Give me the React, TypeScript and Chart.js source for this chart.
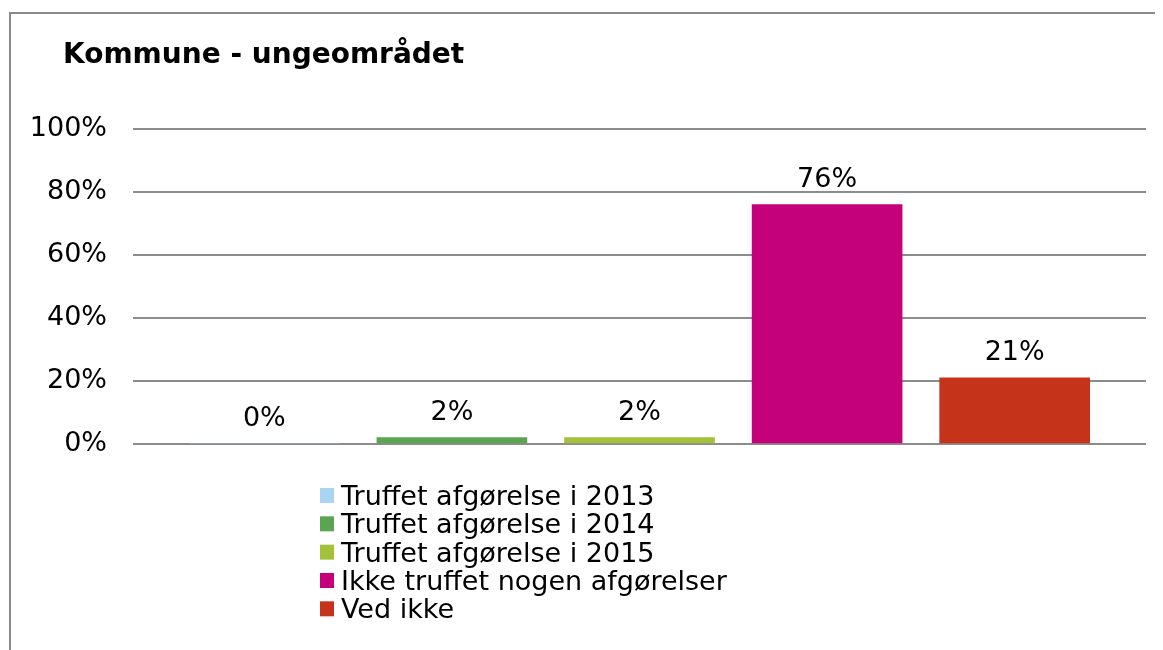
import React, { useEffect, useRef } from "react";
import { Chart, registerables } from "chart.js";

Chart.register(...registerables);

const titleText = "Kommune - ungeområdet";
const categories = [
  "Truffet afgørelse i 2013",
  "Truffet afgørelse i 2014",
  "Truffet afgørelse i 2015",
  "Ikke truffet nogen afgørelser",
  "Ved ikke",
];
const values = [0, 2, 2, 76, 21];
const colors = ["#a9d5f3", "#5aa452", "#a3c13a", "#c4007a", "#c5341a"];
const yTicks = [0, 20, 40, 60, 80, 100];

const FONT = "'DejaVu Sans', Verdana, sans-serif";

export default function App() {
  const ref = useRef<HTMLCanvasElement | null>(null);

  useEffect(() => {
    document.documentElement.style.overflow = "hidden";
    document.body.style.overflow = "hidden";
    if (!ref.current) return;

    const overlay = {
      id: "overlay",
      afterDatasetsDraw(chart: any) {
        const ctx = chart.ctx;
        ctx.save();
        ctx.fillStyle = "#000";
        ctx.font = `27px ${FONT}`;
        ctx.textAlign = "center";
        ctx.textBaseline = "alphabetic";
        chart.data.datasets.forEach((ds: any, i: number) => {
          const meta = chart.getDatasetMeta(i);
          const el = meta.data[0];
          if (!el) return;
          ctx.fillText(`${ds.data[0].y}%`, el.x, el.y - 18);
        });
        ctx.restore();
      },
      afterDraw(chart: any) {
        const ctx = chart.ctx;
        ctx.save();
        // title
        ctx.fillStyle = "#000";
        ctx.font = `bold 28px ${FONT}`;
        ctx.textAlign = "left";
        ctx.textBaseline = "alphabetic";
        ctx.fillText(titleText, 55, 55);
        // legend
        ctx.font = `27px ${FONT}`;
        chart.data.datasets.forEach((ds: any, i: number) => {
          const y = 497 + i * 28.33;
          ctx.fillStyle = ds.backgroundColor;
          ctx.fillRect(312, y - 17, 14, 15);
          ctx.fillStyle = "#000";
          ctx.fillText(ds.label, 333, y);
        });
        ctx.restore();
      },
    };

    const chart = new Chart(ref.current, {
      type: "bar",
      data: {
        datasets: categories.map((c, i) => ({
          label: c,
          data: [{ x: i, y: values[i] }],
          backgroundColor: colors[i],
          borderWidth: 0,
          grouped: false,
          barThickness: 150,
        })),
      },
      options: {
        animation: false,
        responsive: false,
        maintainAspectRatio: false,
        layout: { padding: { left: 0, right: 17, top: 121, bottom: 206 } },
        plugins: {
          legend: { display: false },
          title: { display: false },
          tooltip: { enabled: false },
        },
        scales: {
          x: {
            type: "linear",
            min: -0.7,
            max: 4.7,
            offset: false,
            display: false,
          },
          y: {
            min: 0,
            max: 100,
            afterFit(scale: any) {
              scale.width = 125;
            },
            afterBuildTicks(scale: any) {
              scale.ticks = yTicks.map((v) => ({ value: v }));
            },
            border: { display: false },
            grid: {
              color: "#8c8c8c",
              lineWidth: 2,
              drawTicks: false,
            },
            ticks: {
              padding: 26,
              color: "#000",
              font: { family: FONT, size: 27 },
              callback: (v: any) => `${v}%`,
            },
          },
        },
      },
      plugins: [overlay],
    } as any);

    return () => chart.destroy();
  }, []);

  return (
    <div style={{ position: "relative", width: 1155, height: 642 }}>
      <div
        style={{
          position: "absolute",
          left: 1,
          top: 4,
          right: 0,
          bottom: 0,
          borderLeft: "2px solid #8a8a8a",
          borderTop: "2px solid #8a8a8a",
        }}
      />
      <canvas
        ref={ref}
        width={1155}
        height={642}
        style={{ position: "absolute", left: 0, top: 0, width: 1155, height: 642 }}
      />
    </div>
  );
}
